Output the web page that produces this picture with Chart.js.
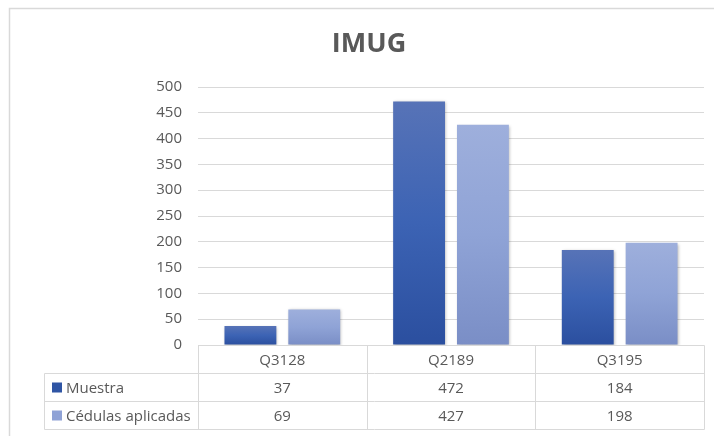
<!DOCTYPE html>
<html>
<head>
<meta charset="utf-8">
<script src="https://cdn.jsdelivr.net/npm/chart.js@4/dist/chart.umd.min.js"></script>
<style>
  html, body { margin: 0; padding: 0; background: #fff; }
  #wrap { position: relative; width: 714px; height: 436px; }
</style>
</head>
<body>
<div id="wrap"><canvas id="c" width="714" height="436"></canvas></div>
<script>
const categories = ['Q3128', 'Q2189', 'Q3195'];
const seriesNames = ['Muestra', 'Cédulas aplicadas'];
const muestra = [37, 472, 184];
const cedulas = [69, 427, 198];
const yTicks = [0, 50, 100, 150, 200, 250, 300, 350, 400, 450, 500];

const FONT = "'Open Sans', sans-serif";
const TEXT = '#595959';
const GRID = '#d9d9d9';

const gradStops = [
  [[0, '#5773b7'], [0.5, '#3c63b4'], [1, '#2b4f9f']],
  [[0, '#9eafdc'], [0.5, '#8fa3d6'], [1, '#7a8ec6']]
];
const legendColors = ['#2f55a4', '#8fa2d6'];

function barGradient(ctx) {
  const chart = ctx.chart;
  const ys = chart.scales && chart.scales.y;
  const ds = ctx.datasetIndex;
  const stops = gradStops[ds];
  if (!ys || ctx.type !== 'data' || ys.top === undefined) return stops[1][1];
  const top = ys.getPixelForValue(ctx.raw);
  const base = ys.getPixelForValue(0);
  if (!isFinite(top) || !isFinite(base) || top === base) return stops[1][1];
  const g = chart.ctx.createLinearGradient(0, top, 0, base);
  stops.forEach(s => g.addColorStop(s[0], s[1]));
  return g;
}

const frame = {
  id: 'frame',
  beforeDraw(chart) {
    const c = chart.ctx;
    c.save();
    c.strokeStyle = '#d9d9d9';
    c.lineWidth = 1.5;
    c.strokeRect(9.5, 8.5, 720, 440);
    c.restore();
  }
};

const shadow = {
  id: 'shadow',
  beforeDatasetsDraw(chart) {
    const c = chart.ctx;
    c.save();
    c.shadowColor = 'rgba(0,0,0,0.28)';
    c.shadowBlur = 3;
    c.shadowOffsetX = 1;
    c.shadowOffsetY = 1;
  },
  afterDatasetsDraw(chart) {
    chart.ctx.restore();
  }
};

const dataTable = {
  id: 'dataTable',
  afterDraw(chart) {
    const c = chart.ctx;
    const area = chart.chartArea;
    const xs = chart.scales.x;
    const n = categories.length;
    const colW = (area.right - area.left) / n;
    const rowH = 28;
    const y0 = Math.round(area.bottom) + 0.5;
    const labelLeft = 44.5;
    const left = Math.round(area.left) + 0.5;
    const right = Math.round(area.right) + 0.5;
    const rows = [y0, y0 + rowH, y0 + rowH * 2, y0 + rowH * 3];
    c.save();
    c.strokeStyle = GRID;
    c.lineWidth = 1;
    c.beginPath();
    c.moveTo(left, rows[0]); c.lineTo(right, rows[0]);
    for (let r = 1; r < rows.length; r++) {
      c.moveTo(labelLeft, rows[r]); c.lineTo(right, rows[r]);
    }
    for (let i = 0; i <= n; i++) {
      const x = Math.round(area.left + colW * i) + 0.5;
      c.moveTo(x, rows[0]); c.lineTo(x, rows[3]);
    }
    c.moveTo(labelLeft, rows[1]); c.lineTo(labelLeft, rows[3]);
    c.stroke();

    c.fillStyle = TEXT;
    c.font = '15px ' + FONT;
    c.textBaseline = 'middle';
    c.textAlign = 'center';
    categories.forEach((cat, i) => {
      c.fillText(cat, xs.getPixelForValue(i), rows[0] + rowH / 2 + 1);
    });
    const series = [muestra, cedulas];
    series.forEach((vals, s) => {
      const cy = rows[s + 1] + rowH / 2 + 1;
      vals.forEach((v, i) => {
        c.fillText(String(v), xs.getPixelForValue(i), cy);
      });
      c.fillStyle = legendColors[s];
      c.fillRect(52, cy - 6, 10, 10);
      c.fillStyle = TEXT;
      c.textAlign = 'left';
      c.fillText(seriesNames[s], 66, cy);
      c.textAlign = 'center';
    });
    c.restore();
  }
};

new Chart(document.getElementById('c'), {
  type: 'bar',
  data: {
    labels: categories,
    datasets: [
      { label: seriesNames[0], data: muestra, backgroundColor: barGradient,
        categoryPercentage: 0.757, barPercentage: 0.8125, borderWidth: 0 },
      { label: seriesNames[1], data: cedulas, backgroundColor: barGradient,
        categoryPercentage: 0.757, barPercentage: 0.8125, borderWidth: 0 }
    ]
  },
  options: {
    responsive: false,
    animation: false,
    events: [],
    layout: { padding: { left: 34, right: 10, top: 0, bottom: 91 } },
    plugins: {
      legend: { display: false },
      tooltip: { enabled: false },
      title: {
        display: true,
        text: 'IMUG',
        color: TEXT,
        font: { family: FONT, size: 27, weight: 'bold', lineHeight: 1.2 },
        padding: { top: 28, bottom: 26.6 }
      }
    },
    scales: {
      x: { display: false },
      y: {
        min: 0, max: 500,
        afterFit(scale) { scale.width = 164; },
        afterBuildTicks(scale) { scale.ticks = yTicks.map(v => ({ value: v })); },
        border: { display: false },
        grid: { color: GRID, lineWidth: 1, drawTicks: false },
        ticks: { color: TEXT, font: { family: FONT, size: 15 }, padding: 16 }
      }
    }
  },
  plugins: [frame, shadow, dataTable]
});
</script>
</body>
</html>
